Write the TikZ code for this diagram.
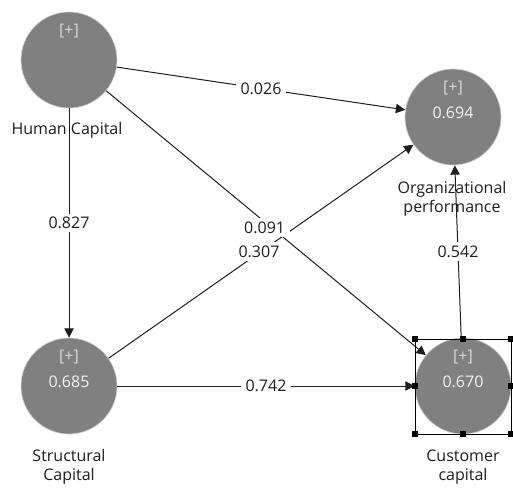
\documentclass[tikz,border=0pt]{standalone}
\usepackage{fontspec}
\setmainfont{Open Sans}
\usetikzlibrary{arrows.meta}
\definecolor{lvgray}{RGB}{128,128,128}
\definecolor{lvedge}{RGB}{205,205,205}
\definecolor{plusgray}{RGB}{215,215,215}
\definecolor{valwhite}{RGB}{242,242,242}
\definecolor{txtgray}{RGB}{30,30,30}
\definecolor{pathgray}{RGB}{30,30,30}
\begin{document}
\begin{tikzpicture}[x=0.75pt,y=-0.75pt,
  font=\fontsize{12pt}{14.5pt}\selectfont,
  lv/.style={circle,fill=lvgray,draw=lvedge,line width=0.5pt,minimum size=72pt,inner sep=0pt},
  plus/.style={text=plusgray,inner sep=0pt},
  rsq/.style={text=valwhite,inner sep=0pt},
  cname/.style={text=txtgray,align=center,inner sep=0pt},
  pathline/.style={draw=pathgray,line width=0.75pt,-{Triangle[length=7pt,width=7pt]}},
  coef/.style={fill=white,text=txtgray,inner xsep=3.5pt,inner ysep=2.5pt,pos=0.5},
  handle/.style={fill=black}
]
\useasboundingbox (0,0) rectangle (513,488);

% latent variables
\node[lv] (hc) at (69,60) {};
\node[lv] (op) at (453,117) {};
\node[lv] (sc) at (69,386) {};
\node[lv] (cc) at (463,386) {};

% indicator markers and R-square values
\node[plus] (hcp) at (69,31) {[+]};
\node[plus] (opp) at (453,88) {[+]};
\node[rsq]  (opv) at (453,113) {0.694};
\node[plus] (scp) at (69,357) {[+]};
\node[rsq]  (scv) at (69,382) {0.685};
\node[plus] (ccp) at (463,357) {[+]};
\node[rsq]  (ccv) at (463,382) {0.670};

% construct names
\node[cname] (hcn) at (67,130) {Human Capital};
\node[cname] (opn) at (452,199) {Organizational\\performance};
\node[cname] (scn) at (69,467) {Structural\\Capital};
\node[cname] (ccn) at (463,467) {Customer\\capital};

% structural paths with coefficients
\draw[pathline] (hc) -- node[coef] (e1) {0.026} (op);
\draw[pathline] (hc) -- node[coef] (e2) {0.827} (sc);
\draw[pathline] (sc) -- node[coef] (e5) {0.742} (cc);
\draw[pathline] (cc) -- node[coef] (e6) {0.542} (op);
\draw[pathline] (sc) -- node[coef,xshift=-1.5pt] (e4) {0.307} (op);
\draw[pathline] (hc) -- node[coef,xshift=-1pt,yshift=-3.5pt] (e3) {0.091} (cc);

% selection frame around the customer capital construct
\draw[line width=0.75pt] ([shift={(-48,-47)}]cc.center) rectangle ([shift={(48,48)}]cc.center);
\foreach \dx/\dy in {-48/-47,0/-47,48/-47,-48/0,48/0,-48/48,0/48,48/48}{
  \fill[handle] ([shift={(\dx-3,\dy-3)}]cc.center) rectangle ([shift={(\dx+3,\dy+3)}]cc.center);
}
\end{tikzpicture}
\end{document}
